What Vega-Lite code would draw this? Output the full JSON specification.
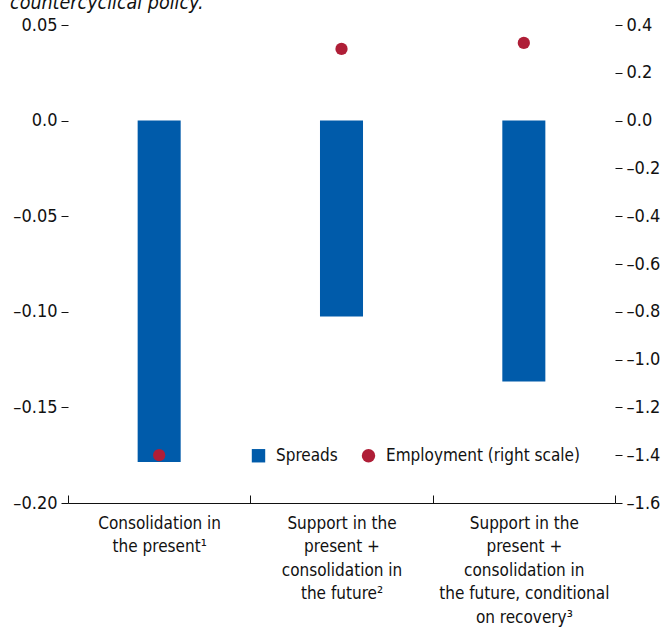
{
  "$schema": "https://vega.github.io/schema/vega-lite/v6.json",
  "width": 547,
  "height": 478,
  "autosize": {"type": "none"},
  "padding": {"left": 68, "top": 25, "right": 53, "bottom": 124},
  "background": "white",
  "config": {
    "view": {"stroke": null},
    "font": "DejaVu Sans Condensed, Roboto, sans-serif",
    "axis": {"labelFont": "DejaVu Sans Condensed, Roboto, sans-serif", "labelFontSize": 17, "labelColor": "#111", "tickColor": "#111", "domainColor": "#111", "grid": false, "title": null}
  },
  "title": {
    "text": "countercyclical policy.",
    "anchor": "start",
    "frame": "group",
    "fontStyle": "italic",
    "fontWeight": "normal",
    "fontSize": 19.5,
    "color": "#111",
    "baseline": "alphabetic",
    "offset": 8,
    "dx": -58,
    "dy": 20,
    "font": "DejaVu Sans Condensed, Roboto, sans-serif"
  },
  "data": {
    "values": [
      {"cat": "Consolidation in|the present¹", "Spreads": -0.1785, "Employment (right scale)": -1.40},
      {"cat": "Support in the|present +|consolidation in|the future²", "Spreads": -0.1025, "Employment (right scale)": 0.30},
      {"cat": "Support in the|present +|consolidation in|the future, conditional|on recovery³", "Spreads": -0.1365, "Employment (right scale)": 0.325}
    ]
  },
  "transform": [{"fold": ["Spreads", "Employment (right scale)"], "as": ["series", "value"]}],
  "encoding": {
    "x": {
      "field": "cat",
      "type": "nominal",
      "sort": null,
      "scale": {"paddingInner": 0, "paddingOuter": 0},
      "axis": {
        "labelAngle": 0,
        "labelExpr": "split(datum.label, '|')",
        "labelLineHeight": 23.6,
        "labelLimit": 0,
        "labelBaseline": "top",
        "tickBand": "extent",
        "tickSize": -8,
        "labelPadding": 20,
        "domainWidth": 1,
        "title": null
      }
    }
  },
  "layer": [
    {
      "layer": [
        {
          "transform": [{"filter": "datum.series == 'Spreads'"}],
          "mark": {"type": "bar", "width": {"band": 0.236}},
          "encoding": {
            "y": {
              "field": "value",
              "type": "quantitative",
              "scale": {"domain": [-0.2, 0.05], "nice": false, "zero": false},
              "axis": {
                "orient": "left",
                "values": [0.05, 0, -0.05, -0.1, -0.15, -0.2],
                "labelExpr": "datum.value == 0 ? '0.0' : (datum.value < 0 ? '–' : '') + format(abs(datum.value), '.2f')",
                "labelFontSize": 18,
                "domain": false,
                "tickSize": 7,
                "labelPadding": 4
              }
            },
            "color": {
              "field": "series",
              "type": "nominal",
              "scale": {"domain": ["Spreads", "Employment (right scale)"], "range": ["#005BAA", "#AF1E37"]},
              "legend": {
                "orient": "none",
                "legendX": 182,
                "legendY": 422,
                "direction": "horizontal",
                "title": null,
                "labelFontSize": 17,
                "labelFont": "DejaVu Sans Condensed, Roboto, sans-serif",
                "labelColor": "#111",
                "symbolSize": 180,
                "symbolStrokeWidth": 0,
                "labelOffset": 9,
                "columnPadding": 22,
                "labelLimit": 400,
                "encode": {
                  "symbols": {
                    "update": {
                      "shape": {"signal": "datum.value == 'Spreads' ? 'square' : 'circle'"}
                    }
                  }
                }
              }
            }
          }
        },
        {
          "mark": {"type": "rule", "color": "#111", "strokeWidth": 1},
          "encoding": {
            "y": {"datum": 0, "type": "quantitative"}
          }
        }
      ]
    },
    {
      "transform": [{"filter": "datum.series != 'Spreads'"}],
      "mark": {"type": "point", "shape": "circle", "filled": true, "size": 150, "opacity": 1},
      "encoding": {
        "y": {
          "field": "value",
          "type": "quantitative",
          "scale": {"domain": [-1.6, 0.4], "nice": false, "zero": false},
          "axis": {
            "orient": "right",
            "values": [0.4, 0.2, 0, -0.2, -0.4, -0.6, -0.8, -1.0, -1.2, -1.4, -1.6],
            "labelExpr": "(datum.value < 0 ? '–' : '') + format(abs(datum.value), '.1f')",
            "labelFontSize": 18,
            "domain": false,
            "tickSize": 7,
            "labelPadding": 4
          }
        },
        "color": {"field": "series", "type": "nominal"}
      }
    }
  ],
  "resolve": {"scale": {"y": "independent"}, "axis": {"y": "independent"}}
}
